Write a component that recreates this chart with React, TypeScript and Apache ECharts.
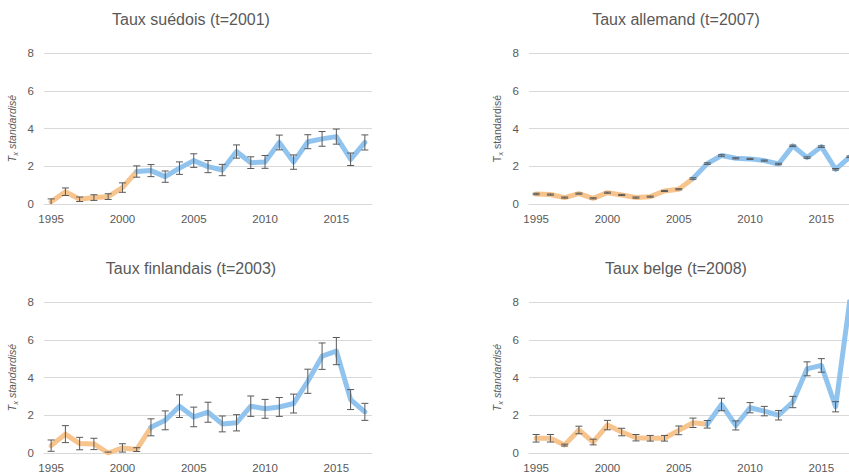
import React, { useEffect, useRef } from "react";
import * as echarts from "echarts";

const years = ["1995","1996","1997","1998","1999","2000","2001","2002","2003","2004","2005","2006","2007","2008","2009","2010","2011","2012","2013","2014","2015","2016","2017"];

const titles = ["Taux suédois (t=2001)", "Taux allemand (t=2007)", "Taux finlandais (t=2003)", "Taux belge (t=2008)"];

// last year drawn in orange (before the break)
const orangeUntil = ["2001", "2006", "2002", "2007"];

const sweden = [0.12,0.65,0.25,0.34,0.39,0.87,1.72,1.77,1.45,1.9,2.3,1.98,1.8,2.78,2.19,2.23,3.26,2.22,3.3,3.45,3.57,2.37,3.26];
const swedenErr = [0.15,0.2,0.12,0.15,0.15,0.25,0.3,0.32,0.3,0.33,0.36,0.32,0.3,0.35,0.31,0.34,0.39,0.38,0.37,0.39,0.4,0.33,0.4];

const germany = [0.53,0.5,0.34,0.55,0.3,0.6,0.48,0.34,0.39,0.69,0.78,1.35,2.14,2.57,2.42,2.39,2.3,2.12,3.08,2.46,3.04,1.84,2.5];
const germanyErr = [0.04,0.03,0.03,0.03,0.03,0.03,0.03,0.03,0.03,0.03,0.03,0.04,0.04,0.04,0.03,0.03,0.03,0.04,0.04,0.04,0.04,0.04,0.04];

const finland = [0.39,1.0,0.5,0.48,0.0,0.27,0.18,1.36,1.73,2.48,1.91,2.16,1.54,1.6,2.48,2.34,2.44,2.62,3.8,5.13,5.4,2.83,2.18];
const finlandErr = [0.3,0.45,0.33,0.3,0.05,0.22,0.1,0.45,0.5,0.6,0.52,0.53,0.42,0.43,0.54,0.5,0.5,0.5,0.64,0.7,0.72,0.53,0.45];

const belgium = [0.78,0.78,0.42,1.22,0.58,1.48,1.11,0.81,0.78,0.78,1.2,1.6,1.52,2.57,1.46,2.4,2.22,2.0,2.7,4.46,4.64,2.45,8.1];
const belgiumErr = [0.2,0.2,0.05,0.2,0.15,0.25,0.2,0.17,0.15,0.15,0.23,0.25,0.2,0.33,0.24,0.27,0.25,0.25,0.3,0.37,0.36,0.27,0.05];

const yTicks = { min: 0, max: 8, interval: 2 };

const seriesValues = [sweden, germany, finland, belgium];
const seriesErrors = [swedenErr, germanyErr, finlandErr, belgiumErr];
const italicName = [true, false, true, true];

const ORANGE = "#F7C48E";
const BLUE = "#90C4EF";
const GREY = "#595959";
const FONT = "Liberation Sans, Arial, sans-serif";

export default function App() {
  const ref = useRef<HTMLDivElement>(null);
  useEffect(() => {
    if (!ref.current) return;
    const chart = echarts.init(ref.current, null, { renderer: "svg" });

    const gridPos = [
      { left: 44, top: 53 },
      { left: 529, top: 53 },
      { left: 44, top: 302 },
      { left: 529, top: 302 },
    ];
    const titlePos = [
      { x: 191, y: 11 },
      { x: 676, y: 11 },
      { x: 191, y: 260 },
      { x: 676, y: 260 },
    ];

    const grids: any[] = [];
    const xAxes: any[] = [];
    const yAxes: any[] = [];
    const series: any[] = [];
    const title: any[] = [];

    for (let k = 0; k < 4; k++) {
      grids.push({ left: gridPos[k].left, top: gridPos[k].top, width: 328, height: 151, containLabel: false });
      title.push({
        text: titles[k],
        left: titlePos[k].x,
        top: titlePos[k].y,
        textAlign: "center",
        padding: 0,
        textStyle: { fontFamily: FONT, fontSize: 16, fontWeight: "normal", color: GREY },
      });
      xAxes.push({
        type: "category",
        gridIndex: k,
        data: years,
        boundaryGap: true,
        axisTick: { show: false },
        axisLine: { show: true, lineStyle: { color: "#D9D9D9", width: 1 } },
        axisLabel: { interval: 4, color: GREY, fontSize: 11.5, fontFamily: FONT, margin: 9 },
        splitLine: { show: false },
      });
      const fs = italicName[k] ? "italic" : "normal";
      const base = { color: GREY, fontFamily: FONT, fontStyle: fs };
      yAxes.push({
        type: "value",
        gridIndex: k,
        min: yTicks.min,
        max: yTicks.max,
        interval: yTicks.interval,
        name: "{t|T}{s|x}{t| standardisé}",
        nameLocation: "middle",
        nameRotate: 90,
        nameGap: 25,
        nameTextStyle: {
          rich: {
            t: { ...base, fontSize: 10.5, lineHeight: 14, verticalAlign: "middle" },
            s: { ...base, fontSize: 7.5, lineHeight: 14, verticalAlign: "bottom", padding: [5, 0, 0, 0] },
          },
        },
        axisLine: { show: false },
        axisTick: { show: false },
        axisLabel: { color: GREY, fontSize: 11.5, fontFamily: FONT, margin: 10 },
        splitLine: { show: true, lineStyle: { color: "#D9D9D9", width: 1 } },
      });

      const vals = seriesValues[k];
      const errs = seriesErrors[k];
      const cut = years.indexOf(orangeUntil[k]);
      series.push({
        type: "line",
        xAxisIndex: k,
        yAxisIndex: k,
        data: vals.map((v, i) => (i <= cut ? v : null)),
        showSymbol: false,
        symbol: "none",
        connectNulls: false,
        lineStyle: { color: ORANGE, width: 5, cap: "round", join: "round" },
        z: 2,
      });
      series.push({
        type: "line",
        xAxisIndex: k,
        yAxisIndex: k,
        data: vals.map((v, i) => (i >= cut ? v : null)),
        showSymbol: false,
        symbol: "none",
        connectNulls: false,
        lineStyle: { color: BLUE, width: 5, cap: "round", join: "round" },
        z: 2,
      });
      series.push({
        type: "custom",
        xAxisIndex: k,
        yAxisIndex: k,
        z: 3,
        clip: true,
        encode: { x: 0, y: [1, 2] },
        data: vals.map((v, i) => [i, v - errs[i], v + errs[i]]),
        renderItem: (params: any, api: any) => {
          const i = api.value(0);
          const lo = api.coord([i, api.value(1)]);
          const hi = api.coord([i, api.value(2)]);
          const w = 3.5;
          const st = { stroke: GREY, lineWidth: 1 };
          return {
            type: "group",
            children: [
              { type: "line", shape: { x1: lo[0], y1: lo[1], x2: hi[0], y2: hi[1] }, style: st },
              { type: "line", shape: { x1: lo[0] - w, y1: lo[1], x2: lo[0] + w, y2: lo[1] }, style: st },
              { type: "line", shape: { x1: hi[0] - w, y1: hi[1], x2: hi[0] + w, y2: hi[1] }, style: st },
            ],
          };
        },
      });
    }

    chart.setOption({
      animation: false,
      backgroundColor: "#FFFFFF",
      title,
      grid: grids,
      xAxis: xAxes,
      yAxis: yAxes,
      series,
    });
    return () => chart.dispose();
  }, []);

  return (
    <div style={{ position: "absolute", left: 0, top: 0, width: 849, height: 475, overflow: "hidden", background: "#fff" }}>
      <div ref={ref} style={{ position: "absolute", left: 0, top: 0, width: 880, height: 475 }} />
    </div>
  );
}
